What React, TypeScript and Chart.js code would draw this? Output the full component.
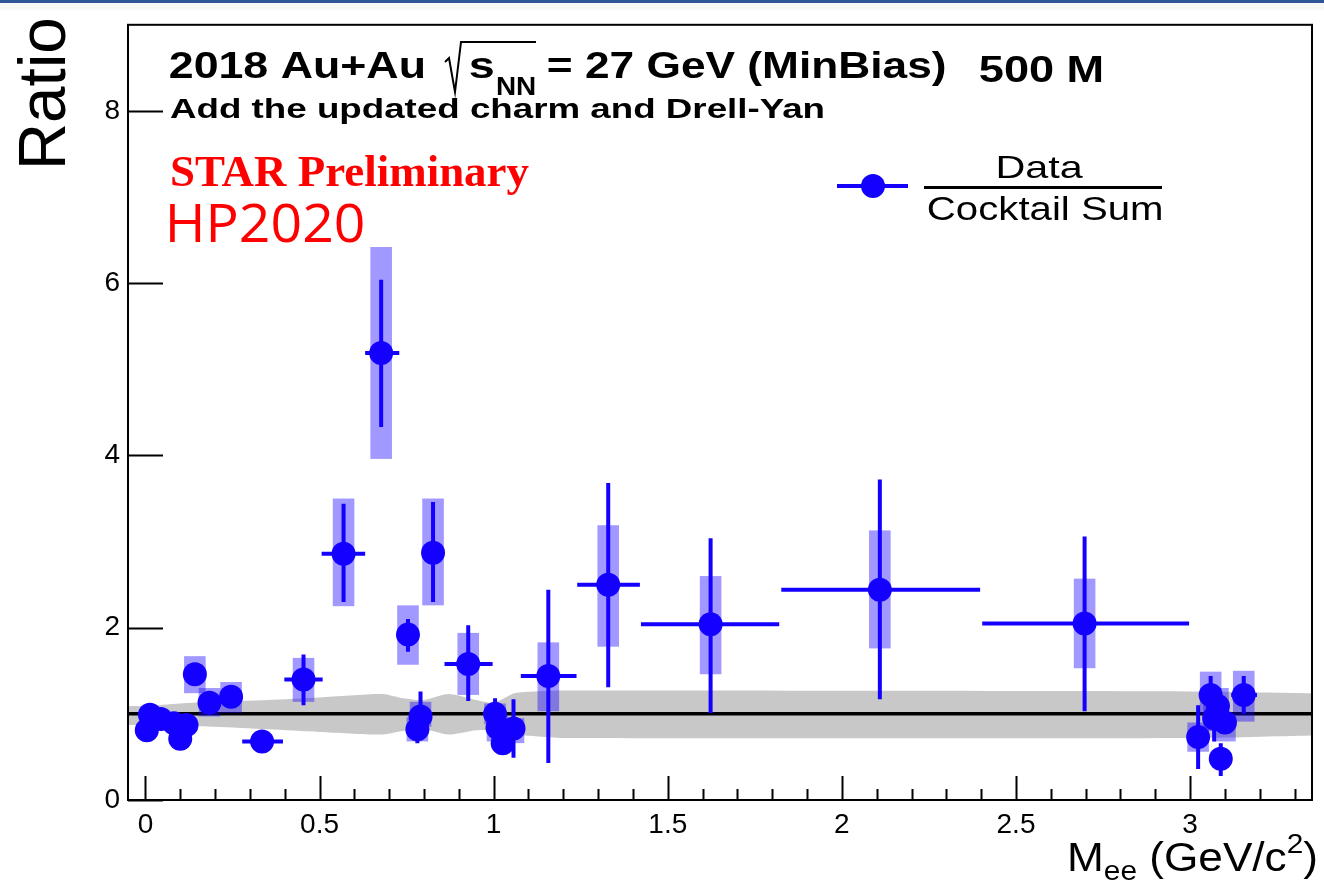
import React, { useEffect, useRef } from "react";
import { Chart, registerables } from "chart.js";

Chart.register(...registerables);

// ---------- axes ----------
const X_MIN = -0.05;
const X_MAX = 3.35;
const Y_MIN = 0;
const Y_MAX = 9;
const xTickValues = [0, 0.5, 1, 1.5, 2, 2.5, 3];
const yTickValues = [0, 2, 4, 6, 8];

// ---------- data: Data / Cocktail Sum ----------
const mass = [0.004, 0.013, 0.044, 0.082, 0.1, 0.118, 0.142, 0.184, 0.246, 0.335, 0.454, 0.569, 0.677, 0.754, 0.781, 0.79, 0.826, 0.927, 1.004, 1.011, 1.026, 1.057, 1.157, 1.329, 1.623, 2.109, 2.697, 3.023, 3.059, 3.069, 3.08, 3.088, 3.1, 3.154];
const ratio = [0.81, 0.99, 0.94, 0.89, 0.71, 0.87, 1.46, 1.13, 1.2, 0.68, 1.4, 2.86, 5.19, 1.92, 0.82, 0.97, 2.87, 1.58, 1.0, 0.84, 0.66, 0.83, 1.44, 2.5, 2.04, 2.44, 2.05, 0.73, 1.22, 0.95, 1.09, 0.48, 0.9, 1.22];
const massLow = [0.0, 0.008, 0.03, 0.07, 0.095, 0.105, 0.135, 0.17, 0.23, 0.278, 0.399, 0.506, 0.631, 0.74, 0.775, 0.787, 0.8, 0.859, 0.997, 1.008, 1.018, 1.035, 1.078, 1.24, 1.423, 1.826, 2.403, 3.01, 3.05, 3.065, 3.073, 3.085, 3.092, 3.118];
const massHigh = [0.008, 0.018, 0.06, 0.095, 0.105, 0.13, 0.15, 0.2, 0.26, 0.395, 0.509, 0.631, 0.729, 0.77, 0.787, 0.8, 0.85, 0.997, 1.008, 1.018, 1.035, 1.078, 1.238, 1.42, 1.82, 2.397, 2.997, 3.035, 3.065, 3.073, 3.085, 3.092, 3.11, 3.192];
const statLow = [0.78, 0.96, 0.9, 0.85, 0.68, 0.83, 1.4, 1.08, 1.15, 0.65, 1.1, 2.3, 4.33, 1.72, 0.66, 0.8, 2.3, 1.15, 0.85, 0.7, 0.55, 0.49, 0.43, 1.31, 1.01, 1.17, 1.03, 0.36, 1.0, 0.68, 0.95, 0.28, 0.8, 1.0];
const statHigh = [0.84, 1.02, 0.98, 0.93, 0.74, 0.91, 1.52, 1.18, 1.25, 0.71, 1.69, 3.44, 6.04, 2.1, 0.95, 1.26, 3.46, 2.03, 1.18, 0.98, 0.77, 1.17, 2.44, 3.68, 3.04, 3.72, 3.06, 1.1, 1.44, 1.2, 1.25, 0.66, 1.0, 1.44];
const sysLow = [0.75, 0.93, 0.88, 0.83, 0.65, 0.8, 1.24, 0.97, 1.01, 0.64, 1.14, 2.25, 3.96, 1.57, 0.68, 0.85, 2.26, 1.22, 0.88, 0.68, 0.6, 0.66, 1.03, 1.78, 1.46, 1.76, 1.53, 0.56, 1.0, 0.8, 0.9, 0.42, 0.68, 0.91];
const sysHigh = [0.87, 1.05, 1.0, 0.95, 0.77, 0.94, 1.67, 1.3, 1.37, 0.72, 1.65, 3.5, 6.42, 2.26, 0.96, 1.14, 3.5, 1.94, 1.12, 0.98, 0.75, 0.95, 1.83, 3.19, 2.6, 3.13, 2.57, 0.9, 1.49, 1.2, 1.3, 0.54, 1.0, 1.5];

// ---------- cocktail uncertainty band ----------
const bandMass = [-0.05, 0.0, 0.1, 0.2, 0.35, 0.5, 0.68, 0.74, 0.8, 0.87, 0.95, 1.0, 1.06, 1.12, 1.2, 3.0, 3.35];
const bandUpper = [1.09, 1.09, 1.12, 1.14, 1.16, 1.19, 1.23, 1.18, 1.16, 1.23, 1.16, 1.13, 1.24, 1.26, 1.27, 1.26, 1.24];
const bandLower = [0.87, 0.87, 0.86, 0.85, 0.82, 0.79, 0.76, 0.8, 0.82, 0.76, 0.81, 0.81, 0.76, 0.74, 0.72, 0.72, 0.75];

// ---------- styles ----------
const BLUE = "#1400ff";
const SYS_COLOR = "rgba(20,0,255,0.4)";
const BAND = "#c8c8c8";
const SYS_HALF = 0.031;
const SANS = "'Liberation Sans', Arial, sans-serif";

function drawFit(
  ctx: CanvasRenderingContext2D,
  text: string,
  font: string,
  color: string,
  x: number,
  y: number,
  width: number,
  rotate = 0,
  vScale = 1
) {
  ctx.save();
  ctx.font = font;
  ctx.fillStyle = color;
  ctx.textAlign = "left";
  ctx.textBaseline = "alphabetic";
  const m = ctx.measureText(text);
  const ink = m.actualBoundingBoxLeft + m.actualBoundingBoxRight;
  ctx.translate(x, y);
  if (rotate) ctx.rotate(rotate);
  ctx.scale(width / ink, vScale);
  ctx.fillText(text, m.actualBoundingBoxLeft, 0);
  ctx.restore();
}

type Run = { t: string; font: string; dy: number };
function drawRuns(ctx: CanvasRenderingContext2D, runs: Run[], x: number, y: number, width: number) {
  ctx.save();
  ctx.fillStyle = "#000";
  ctx.textAlign = "left";
  ctx.textBaseline = "alphabetic";
  let total = 0;
  const ws = runs.map((r) => {
    ctx.font = r.font;
    const w = ctx.measureText(r.t).width;
    total += w;
    return w;
  });
  ctx.translate(x, y);
  ctx.scale(width / total, 1);
  let cx = 0;
  runs.forEach((r, i) => {
    ctx.font = r.font;
    ctx.fillText(r.t, cx, r.dy);
    cx += ws[i];
  });
  ctx.restore();
}

const bgPlugin = {
  id: "bg",
  beforeDraw(chart: any) {
    const { ctx, width, height } = chart;
    ctx.save();
    ctx.fillStyle = "#ffffff";
    ctx.fillRect(0, 0, width, height);
    ctx.fillStyle = "#f7f7f7";
    ctx.fillRect(0, 3, width, 7);
    ctx.fillStyle = "#2f5597";
    ctx.fillRect(0, 0, width, 3);
    ctx.restore();
  },
};

const errPlugin = {
  id: "errs",
  beforeDatasetDraw(chart: any, args: any) {
    if (args.index !== 0) return;
    const { ctx } = chart;
    const xs = chart.scales.x;
    const ys = chart.scales.y;
    ctx.save();
    ctx.fillStyle = SYS_COLOR;
    mass.forEach((m, i) => {
      const x0 = xs.getPixelForValue(m - SYS_HALF);
      const x1 = xs.getPixelForValue(m + SYS_HALF);
      const y0 = ys.getPixelForValue(sysHigh[i]);
      const y1 = ys.getPixelForValue(sysLow[i]);
      ctx.fillRect(x0, y0, x1 - x0, y1 - y0);
    });
    ctx.strokeStyle = BLUE;
    ctx.lineWidth = 4;
    ctx.lineCap = "butt";
    mass.forEach((m, i) => {
      const px = xs.getPixelForValue(m);
      const py = ys.getPixelForValue(ratio[i]);
      ctx.beginPath();
      ctx.moveTo(px, ys.getPixelForValue(statLow[i]));
      ctx.lineTo(px, ys.getPixelForValue(statHigh[i]));
      ctx.moveTo(xs.getPixelForValue(massLow[i]), py);
      ctx.lineTo(xs.getPixelForValue(massHigh[i]), py);
      ctx.stroke();
    });
    ctx.restore();
  },
};

const decoPlugin = {
  id: "deco",
  afterDraw(chart: any) {
    const { ctx, chartArea } = chart;
    const xs = chart.scales.x;
    const ys = chart.scales.y;
    const { left, right, top, bottom } = chartArea;
    ctx.save();
    // frame
    ctx.strokeStyle = "#000";
    ctx.lineWidth = 2;
    ctx.strokeRect(left, top, right - left, bottom - top);
    // x ticks (inward)
    ctx.beginPath();
    for (let k = 0; k <= 33; k++) {
      const v = k / 10;
      const px = Math.round(xs.getPixelForValue(v)) + 0.5;
      const len = k % 5 === 0 ? 24 : 11;
      ctx.moveTo(px, bottom);
      ctx.lineTo(px, bottom - len);
    }
    // y ticks (inward)
    yTickValues.forEach((v) => {
      const py = Math.round(ys.getPixelForValue(v)) + 0.5;
      ctx.moveTo(left, py);
      ctx.lineTo(left + 35, py);
    });
    ctx.stroke();

    // y title
    drawFit(ctx, "Ratio", `62px ${SANS}`, "#000", 65, 165, 145, -Math.PI / 2, 1.08);

    // x title
    drawRuns(
      ctx,
      [
        { t: "M", font: `40px ${SANS}`, dy: 0 },
        { t: "ee", font: `27px ${SANS}`, dy: 9 },
        { t: " (GeV/c", font: `40px ${SANS}`, dy: 0 },
        { t: "2", font: `27px ${SANS}`, dy: -18 },
        { t: ")", font: `40px ${SANS}`, dy: 0 },
      ],
      1067,
      871,
      251
    );

    // headline
    const B37 = `bold 37px ${SANS}`;
    drawFit(ctx, "2018 Au+Au", B37, "#000", 170, 78, 254);
    ctx.beginPath();
    ctx.lineWidth = 2;
    ctx.moveTo(445, 62);
    ctx.lineTo(449, 58);
    ctx.lineTo(455, 92);
    ctx.lineTo(461, 42);
    ctx.lineTo(536, 42);
    ctx.stroke();
    drawFit(ctx, "s", B37, "#000", 470, 78, 24);
    drawFit(ctx, "NN", `bold 25px ${SANS}`, "#000", 497, 95, 38);
    drawFit(ctx, "= 27 GeV (MinBias)", B37, "#000", 548, 78, 397);
    drawFit(ctx, "500 M", B37, "#000", 980, 82, 122);
    drawFit(ctx, "Add the updated charm and Drell-Yan", `bold 27px ${SANS}`, "#000", 170, 118, 653);
    drawFit(ctx, "STAR Preliminary", `bold 44px 'Liberation Serif', 'Times New Roman', serif`, "#ff0000", 172, 186, 357);
    drawFit(ctx, "HP2020", `53px 'Open Sans', sans-serif`, "#ff0000", 170, 242, 193);

    // legend
    ctx.strokeStyle = BLUE;
    ctx.lineWidth = 4;
    ctx.beginPath();
    ctx.moveTo(837, 186);
    ctx.lineTo(908, 186);
    ctx.stroke();
    ctx.fillStyle = BLUE;
    ctx.beginPath();
    ctx.arc(873, 186, 12, 0, Math.PI * 2);
    ctx.fill();
    drawFit(ctx, "Data", `32px ${SANS}`, "#000", 998, 178, 85);
    ctx.strokeStyle = "#000";
    ctx.lineWidth = 3;
    ctx.beginPath();
    ctx.moveTo(924, 187.5);
    ctx.lineTo(1162, 187.5);
    ctx.stroke();
    drawFit(ctx, "Cocktail Sum", `34px ${SANS}`, "#000", 928, 220, 234);
    ctx.restore();
  },
};

export default function App() {
  const ref = useRef<HTMLCanvasElement>(null);
  useEffect(() => {
    const canvas = ref.current;
    if (!canvas) return;
    const points = mass.map((m, i) => ({ x: m, y: ratio[i] }));
    const chart = new Chart(canvas, {
      type: "scatter",
      data: {
        datasets: [
          {
            type: "scatter",
            label: "Data / Cocktail Sum",
            data: points,
            pointRadius: 12,
            pointHoverRadius: 12,
            pointBorderWidth: 0,
            pointBackgroundColor: BLUE,
            pointBorderColor: BLUE,
            backgroundColor: BLUE,
            borderColor: BLUE,
          },
          {
            type: "line",
            label: "unity",
            data: [
              { x: X_MIN, y: 1 },
              { x: X_MAX, y: 1 },
            ],
            borderColor: "#000",
            borderWidth: 3.5,
            pointRadius: 0,
            fill: false,
          },
          {
            type: "line",
            label: "band upper",
            data: bandMass.map((m, i) => ({ x: m, y: bandUpper[i] })),
            borderColor: "rgba(0,0,0,0)",
            borderWidth: 1,
            pointRadius: 0,
            tension: 0.25,
            fill: "+1",
            backgroundColor: BAND,
          },
          {
            type: "line",
            label: "band lower",
            data: bandMass.map((m, i) => ({ x: m, y: bandLower[i] })),
            borderColor: "rgba(0,0,0,0)",
            borderWidth: 1,
            pointRadius: 0,
            tension: 0.25,
            fill: false,
          },
        ],
      } as any,
      options: {
        responsive: false,
        animation: false,
        devicePixelRatio: 1,
        layout: { padding: { top: 22, right: 7, left: 0, bottom: 0 } },
        plugins: {
          legend: { display: false },
          tooltip: { enabled: false },
          title: { display: false },
        },
        events: [],
        scales: {
          x: {
            type: "linear",
            min: X_MIN,
            max: X_MAX,
            afterFit: (s: any) => {
              s.height = 88;
            },
            afterBuildTicks: (s: any) => {
              s.ticks = xTickValues.map((v) => ({ value: v }));
            },
            grid: { display: false, drawTicks: false },
            border: { display: false },
            ticks: {
              color: "#000",
              font: { family: SANS, size: 28 },
              padding: 8,
              maxRotation: 0,
              autoSkip: false,
              callback: (v: any) => String(v),
            },
          },
          y: {
            type: "linear",
            min: Y_MIN,
            max: Y_MAX,
            afterFit: (s: any) => {
              s.width = 128;
            },
            afterBuildTicks: (s: any) => {
              s.ticks = yTickValues.map((v) => ({ value: v }));
            },
            grid: { display: false, drawTicks: false },
            border: { display: false },
            ticks: {
              color: "#000",
              font: { family: SANS, size: 28 },
              padding: 8,
              autoSkip: false,
              callback: (v: any) => String(v),
            },
          },
        },
      } as any,
      plugins: [bgPlugin, errPlugin, decoPlugin],
    });
    return () => chart.destroy();
  }, []);

  return (
    <div style={{ position: "fixed", left: 0, top: 0, width: 1324, height: 888, background: "#fff" }}>
      <canvas ref={ref} width={1324} height={888} style={{ display: "block" }} />
    </div>
  );
}
